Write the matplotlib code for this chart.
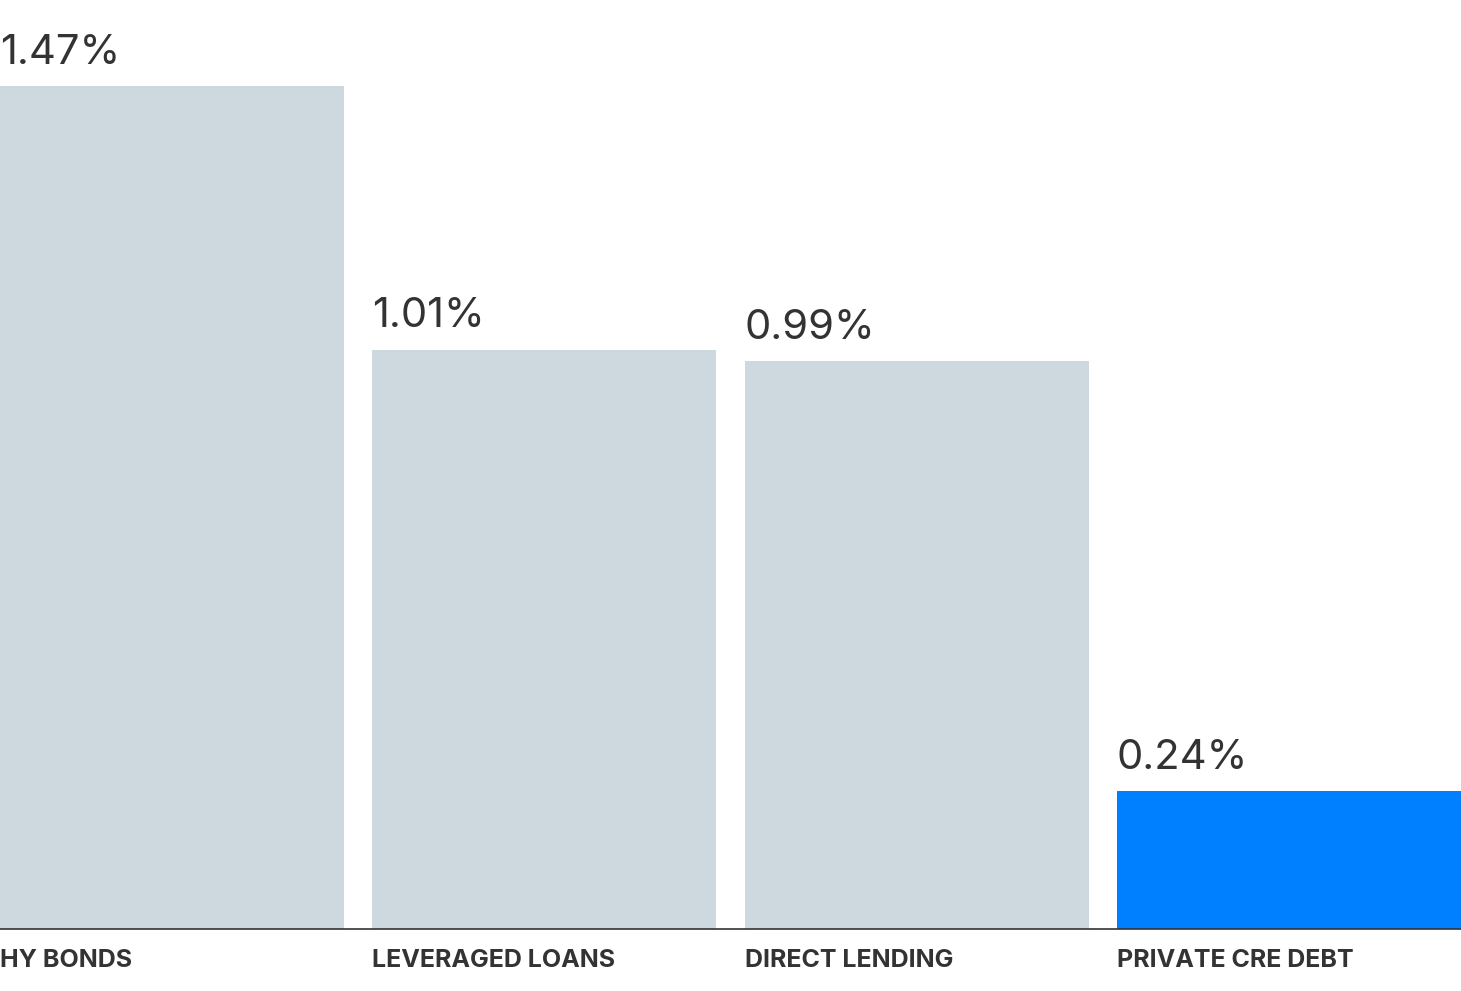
import matplotlib
matplotlib.use("Agg")
import matplotlib.pyplot as plt

categories = ["HY BONDS", "LEVERAGED LOANS", "DIRECT LENDING", "PRIVATE CRE DEBT"]
values = [1.47, 1.01, 0.99, 0.24]
labels = ["1.47%", "1.01%", "0.99%", "0.24%"]
colors = ["#CDD9DE", "#CDD9DE", "#CDD9DE", "#0080FF"]

fig = plt.figure(figsize=(14.61, 9.91), dpi=100)
ax = fig.add_axes([0, 991 - 929 and (991 - 929) / 991, 1, 929 / 991])
w = 344 / 372
x = list(range(len(values)))
ax.bar(x, values, width=w, color=colors)
ax.set_xlim(-w / 2, 3 + w / 2)
ax.set_ylim(0, 929 / 573.5)
for s in ["top", "right", "left"]:
    ax.spines[s].set_visible(False)
ax.spines["bottom"].set_color("#333333")
ax.spines["bottom"].set_linewidth(1.2)
ax.set_xticks([])
ax.set_yticks([])
for i, (v, l, c) in enumerate(zip(values, labels, categories)):
    ax.text(i - w / 2, v + 0.025, l, ha="left", va="bottom", fontsize=30,
            color="#333333", family="Inter")
    ax.text(i - w / 2, -0.055, c, ha="left", va="center", fontsize=18,
            fontweight="bold", color="#333333", family="Inter", clip_on=False)
fig.savefig("out.png", dpi=100)
